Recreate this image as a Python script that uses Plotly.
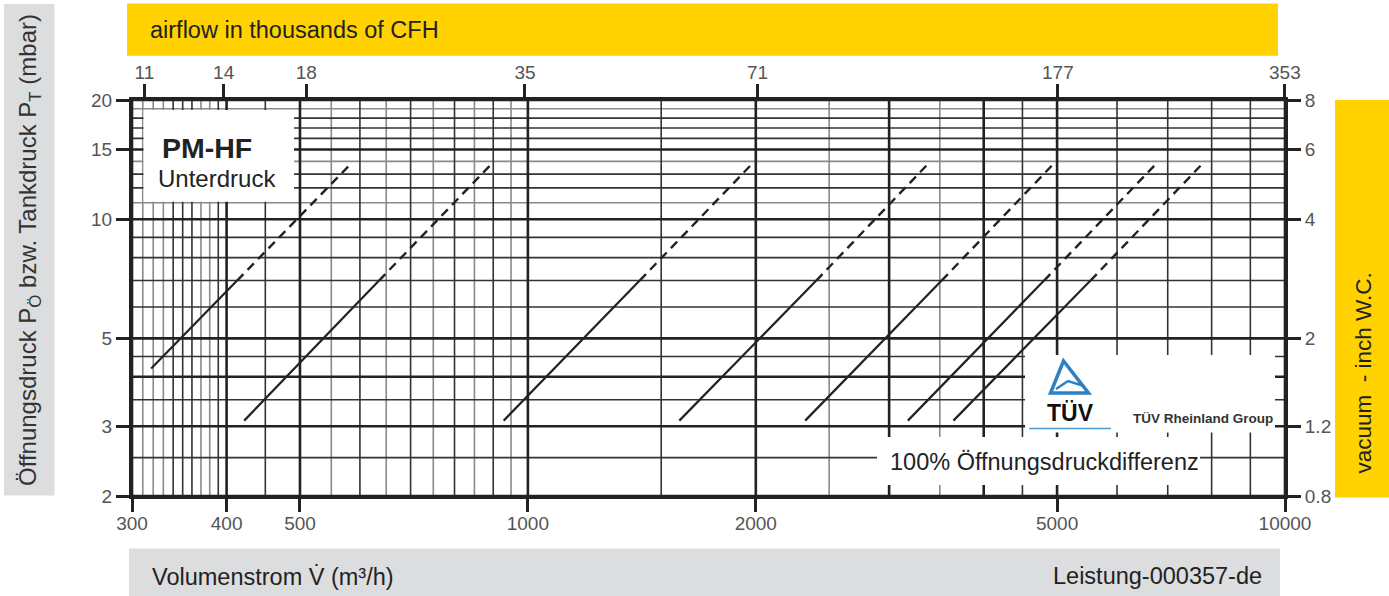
import plotly.graph_objects as go

# ---------------- data ----------------
flow_start = [318, 422, 929, 1585, 2324, 3176, 3648]      # m3/h, start of solid part
p_start    = [4.2, 3.1, 3.1, 3.1, 3.1, 3.1, 3.1]           # mbar
flow_knee  = [413, 636, 1405, 2404, 3520, 4806, 5535]      # m3/h, solid -> dashed
p_knee     = [7.0, 7.0, 7.0, 7.0, 7.0, 7.0, 7.0]
flow_end   = [586, 899, 1985, 3390, 4965, 6781, 7806]      # m3/h, end of dashed part
p_end      = [13.9, 13.9, 13.9, 13.9, 13.9, 13.9, 13.9]

x_ticks = [300, 400, 500, 1000, 2000, 5000, 10000]
x_ticktext = ["300", "400", "500", "1000", "2000", "5000", "10000"]
y_ticks = [2, 3, 5, 10, 15, 20]
y_ticktext = ["2", "3", "5", "10", "15", "20"]
cfh_labels = [11, 14, 18, 35, 71, 177, 353]                 # thousands of CFH
cfh_per_m3h = 35.3147
inwc_labels = ["0.8", "1.2", "2", "4", "6", "8"]

grid_x_major = [300, 400, 500, 1000, 2000, 3000, 4000, 5000, 10000]
grid_x_mid = [340, 350, 360, 390, 450, 600, 700, 800, 900, 1500, 4500, 6000, 7000, 8000, 9000]
grid_x_minor = [310, 320, 330, 370, 380, 550, 650, 750, 850, 950, 2500, 3500]
grid_y_major = [2, 3, 4, 5, 10, 15, 20]
grid_y_mid = [2.5, 3.5, 4.5, 6, 7, 8, 9, 12, 13, 16, 17, 18]
grid_y_minor = [11, 14, 19]

# ---------------- geometry helpers (layout only) ----------------
W, H = 1389, 596
L, R, T, B = 132, 1285, 100, 496
def px(x):
    return (x - L) / (R - L)
def py(y):
    return (B - y) / (B - T)

FONT = "Liberation Sans, Arial, Helvetica, sans-serif"
INK = "#222222"

fig = go.Figure()

for i in range(len(flow_start)):
    fig.add_trace(go.Scatter(x=[flow_start[i], flow_knee[i]], y=[p_start[i], p_knee[i]],
                             mode="lines", line=dict(color=INK, width=2.2),
                             showlegend=False, hoverinfo="skip"))
    fig.add_trace(go.Scatter(x=[flow_knee[i], flow_end[i]], y=[p_knee[i], p_end[i]],
                             mode="lines", line=dict(color=INK, width=2.4, dash="9px,6px"),
                             showlegend=False, hoverinfo="skip"))

# invisible trace to activate the secondary (top / right) axes
fig.add_trace(go.Scatter(x=[300, 10000], y=[2, 20], xaxis="x2", yaxis="y2",
                         mode="markers", marker=dict(opacity=0), showlegend=False,
                         hoverinfo="skip"))

shapes = []
def vline(v, color, width):
    shapes.append(dict(type="line", xref="x", yref="paper", x0=v, x1=v, y0=0, y1=1,
                       line=dict(color=color, width=width), layer="below"))
def hline(v, color, width):
    shapes.append(dict(type="line", xref="paper", yref="y", x0=0, x1=1, y0=v, y1=v,
                       line=dict(color=color, width=width), layer="below"))

for v in grid_x_minor:
    vline(v, "#8a8a8a", 1.6)
for v in grid_y_minor:
    hline(v, "#8a8a8a", 1.6)
for v in grid_x_mid:
    vline(v, "#333333", 1.6)
for v in grid_y_mid:
    hline(v, "#333333", 1.6)
for v in grid_x_major:
    vline(v, "#222222", 2.6)
for v in grid_y_major:
    hline(v, "#222222", 2.6)

def rect(x0, y0, x1, y1, color, layer="below"):
    shapes.append(dict(type="rect", xref="paper", yref="paper",
                       x0=px(x0), x1=px(x1), y0=py(y1), y1=py(y0),
                       fillcolor=color, line=dict(width=0), layer=layer))

# white label boxes over the grid
rect(143.5, 110, 294, 201.7, "white")
rect(1025, 355, 1275, 432.5, "white")
rect(877, 437, 1200, 485, "white")

# coloured bands outside the plot
YEL = "#FFD200"
GRY = "#DCDDDF"
rect(4, 4, 54.5, 495.5, GRY)
rect(127, 3.5, 1278, 55.7, YEL)
rect(1335, 100, 1390, 497.5, YEL)
rect(129, 548.5, 1280, 597, GRY)

# TÜV logo triangle + underline
def pth(points, close=True):
    s = "M " + " L ".join(f"{px(a):.5f},{py(b):.5f}" for a, b in points)
    return s + (" Z" if close else "")
shapes.append(dict(type="path", xref="paper", yref="paper",
                   path=pth([(1063.5, 361), (1050.5, 393), (1088.5, 393)]),
                   line=dict(color="#2c82c6", width=3.5), fillcolor="rgba(0,0,0,0)", layer="above"))
shapes.append(dict(type="path", xref="paper", yref="paper",
                   path=pth([(1056, 389), (1068, 381), (1084, 386)], close=False),
                   line=dict(color="#2c82c6", width=2.5), layer="above"))
shapes.append(dict(type="line", xref="paper", yref="paper",
                   x0=px(1029), x1=px(1111), y0=py(428.5), y1=py(428.5),
                   line=dict(color="#4a9ad6", width=1.6), layer="above"))

ann = []
def text(x, y, s, size, xanchor="left", color=INK, bold=False, angle=0, yanchor="middle"):
    ann.append(dict(x=px(x), y=py(y), xref="paper", yref="paper", text=(f"<b>{s}</b>" if bold else s),
                    showarrow=False, xanchor=xanchor, yanchor=yanchor, textangle=angle,
                    font=dict(family=FONT, size=size, color=color)))

text(148, 30, "airflow in thousands of CFH", 23.5)
text(29, 250, "Öffnungsdruck P<sub>Ö</sub> bzw. Tankdruck P<sub>T</sub> (mbar)", 24,
     xanchor="center", color="#333333", angle=-90)
text(1362.5, 373, "vacuum\u00a0\u00a0- inch W.C.", 22.5, xanchor="center", angle=-90)
text(150, 576, "Volumenstrom V\u0307 (m³/h)", 23.5)
text(1264, 576, "Leistung-000357-de", 23.5, xanchor="right")
text(160, 148, "PM-HF", 28.5, bold=True)
text(156, 178, "Unterdruck", 24)
text(888, 462, "100% Öffnungsdruckdifferenz", 23.5)
text(1070, 413, "TÜV", 23, xanchor="center", color="#111111", bold=True)
text(1131, 418, "TÜV Rheinland Group", 13.5, color="#333333", bold=True)

tickfont = dict(family=FONT, size=19, color="#555555")
xr = [2.4771213, 4.0]
yr = [0.30103, 1.30103]
axis_common = dict(type="log", showgrid=False, zeroline=False, showline=True,
                   linecolor=INK, linewidth=3, ticks="outside", ticklen=13,
                   tickwidth=2.5, tickcolor=INK, tickfont=tickfont, tickmode="array")

fig.update_layout(
    width=W, height=H, autosize=False,
    margin=dict(l=L, r=W - R, t=T, b=H - B, pad=0),
    paper_bgcolor="white", plot_bgcolor="white",
    showlegend=False,
    xaxis=dict(axis_common, range=xr, tickvals=x_ticks, ticktext=x_ticktext, side="bottom",
               ticklabelstandoff=-5),
    xaxis2=dict(axis_common, range=xr, overlaying="x", side="top", anchor="y",
                tickvals=[c * 1000 / cfh_per_m3h for c in cfh_labels],
                ticktext=[str(c) for c in cfh_labels], ticklabelstandoff=-3),
    yaxis=dict(axis_common, range=yr, tickvals=y_ticks, ticktext=y_ticktext, side="left"),
    yaxis2=dict(axis_common, range=yr, overlaying="y", side="right", anchor="x",
                tickvals=y_ticks, ticktext=inwc_labels),
    shapes=shapes,
    annotations=ann,
)

fig.write_html("out.html", config={"displayModeBar": False, "responsive": False},
               post_script="document.body.style.margin='0';document.body.style.overflow='hidden';")
